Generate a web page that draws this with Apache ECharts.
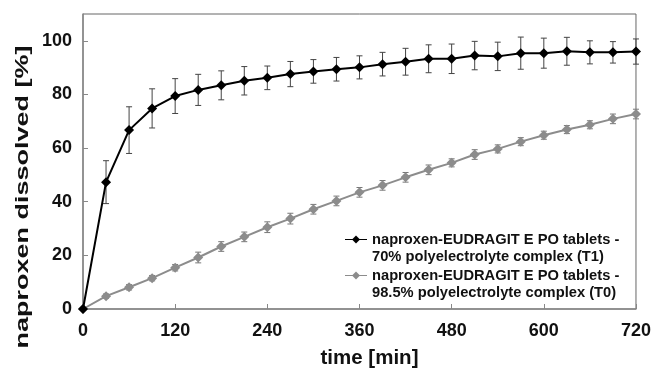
<!DOCTYPE html>
<html>
<head>
<meta charset="utf-8">
<script src="https://cdn.jsdelivr.net/npm/echarts@6/dist/echarts.min.js"></script>
<style>
  html, body { margin: 0; padding: 0; background: #fff; }
  #chart { width: 654px; height: 374px; }
</style>
</head>
<body>
<div id="chart"></div>
<script>
// sampling times (min)
var times = [0, 30, 60, 90, 120, 150, 180, 210, 240, 270, 300, 330, 360,
             390, 420, 450, 480, 510, 540, 570, 600, 630, 660, 690, 720];

// T1: 70% polyelectrolyte complex
var t1Mean = [0, 47.3, 66.7, 74.8, 79.4, 81.7, 83.4, 85.1, 86.2, 87.6, 88.6, 89.4, 90.1,
              91.3, 92.2, 93.3, 93.3, 94.5, 94.2, 95.4, 95.4, 96.1, 95.7, 95.7, 96.0];
var t1Err = [0, 8, 8.7, 7.3, 6.5, 5.8, 5.4, 5.3, 4.4, 4.7, 4.4, 4.4, 4.3,
             4.4, 5, 5.2, 5.5, 5.3, 5.3, 6, 5.6, 5.2, 4.3, 4, 4.7];

// T0: 98.5% polyelectrolyte complex
var t0Mean = [0, 4.8, 8.1, 11.5, 15.4, 19.2, 23.3, 26.9, 30.5, 33.7, 37.2, 40.3, 43.5,
              46.1, 49.1, 51.9, 54.5, 57.6, 59.7, 62.4, 64.8, 66.9, 68.7, 70.9, 72.7];
var t0Err = [0, 0.8, 1, 1, 1.2, 2, 1.8, 1.8, 2, 2, 1.8, 1.8, 1.8,
             1.8, 1.8, 1.8, 1.5, 1.8, 1.5, 1.5, 1.5, 1.5, 1.5, 1.8, 1.8];

var names = [
    'naproxen-EUDRAGIT E PO tablets -\n70% polyelectrolyte complex (T1)',
    'naproxen-EUDRAGIT E PO tablets -\n98.5% polyelectrolyte complex (T0)'
];

var FONT = '"Liberation Sans", Arial, sans-serif';

// legend icon: line + diamond sitting level with the first text line
var LEGEND_ICON = 'path://M0,0h0.1v0.1h-0.1z M0,7.9h22v1.2h-22z M11,4.5L15,8.5L11,12.5L7,8.5z M21.9,33.9h0.1v0.1h-0.1z';

function pairs(xs, ys) {
    return xs.map(function (x, i) { return [x, ys[i]]; });
}

function errData(xs, ys, es) {
    return xs.map(function (x, i) { return [x, ys[i] - es[i], ys[i] + es[i]]; });
}

function errorBars(color) {
    return function (params, api) {
        var lo = api.coord([api.value(0), api.value(1)]);
        var hi = api.coord([api.value(0), api.value(2)]);
        var w = 3;
        var style = { stroke: color, lineWidth: 1 };
        return {
            type: 'group',
            children: [
                { type: 'line', shape: { x1: lo[0], y1: lo[1], x2: hi[0], y2: hi[1] }, style: style },
                { type: 'line', shape: { x1: lo[0] - w, y1: lo[1], x2: lo[0] + w, y2: lo[1] }, style: style },
                { type: 'line', shape: { x1: hi[0] - w, y1: hi[1], x2: hi[0] + w, y2: hi[1] }, style: style }
            ]
        };
    };
}

var myChart = echarts.init(document.getElementById('chart'));

var option = {
    backgroundColor: '#fff',
    animation: false,
    grid: {
        left: 83, right: 16, top: 14, bottom: 59,
        show: true, borderColor: '#666', borderWidth: 1
    },
    legend: {
        orient: 'vertical',
        left: 345, top: 231,
        padding: 0,
        itemWidth: 22, itemHeight: 34, itemGap: 2,
        icon: LEGEND_ICON,
        itemStyle: { borderWidth: 0 },
        data: names,
        textStyle: {
            fontFamily: FONT, fontWeight: 'bold', fontSize: 14.7,
            color: '#111', lineHeight: 17
        }
    },
    xAxis: {
        type: 'value', min: 0, max: 720, interval: 120,
        axisLine: { lineStyle: { color: '#888', width: 1.5 } },
        axisTick: { inside: true, length: 5, lineStyle: { color: '#888' } },
        splitLine: { show: false },
        axisLabel: { fontFamily: FONT, fontWeight: 'bold', fontSize: 18, color: '#111', margin: 13 },
        name: 'time [min]',
        nameLocation: 'middle',
        nameGap: 39,
        nameTextStyle: { fontFamily: FONT, fontWeight: 'bold', fontSize: 20.5, color: '#111', padding: [0, 0, 0, 20] }
    },
    yAxis: {
        type: 'value', min: 0, max: 110, interval: 20,
        axisLine: { show: true, lineStyle: { color: '#888', width: 1.5 } },
        axisTick: { show: true, inside: true, length: 5, lineStyle: { color: '#888' } },
        splitLine: { show: false },
        axisLabel: { fontFamily: FONT, fontWeight: 'bold', fontSize: 18, color: '#111', margin: 11, showMaxLabel: false }
    },
    graphic: [{
        type: 'text',
        x: 23, y: 197,
        rotation: Math.PI / 2,
        scaleX: 1.5,
        style: {
            text: 'naproxen dissolved [%]',
            font: 'bold 18px ' + FONT,
            fill: '#111',
            align: 'center',
            verticalAlign: 'middle'
        }
    }],
    series: [
        {
            type: 'custom',
            renderItem: errorBars('#444'),
            data: errData(times, t1Mean, t1Err),
            encode: { x: 0, y: [1, 2] },
            silent: true, z: 1
        },
        {
            type: 'custom',
            renderItem: errorBars('#777'),
            data: errData(times, t0Mean, t0Err),
            encode: { x: 0, y: [1, 2] },
            silent: true, z: 1
        },
        {
            name: names[0],
            type: 'line',
            data: pairs(times, t1Mean),
            symbol: 'diamond', symbolSize: 10,
            color: '#000',
            lineStyle: { color: '#000', width: 2 },
            itemStyle: { color: '#000' },
            z: 3
        },
        {
            name: names[1],
            type: 'line',
            data: pairs(times, t0Mean),
            symbol: 'diamond', symbolSize: 10,
            color: '#8c8c8c',
            lineStyle: { color: '#8c8c8c', width: 2 },
            itemStyle: { color: '#8c8c8c' },
            z: 2
        }
    ]
};
myChart.setOption(option);
</script>
</body>
</html>
